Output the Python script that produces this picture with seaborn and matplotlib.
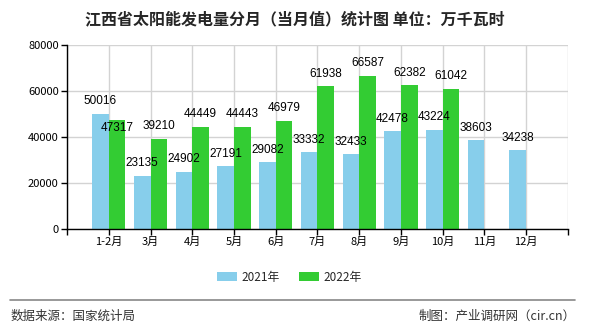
import numpy as np
import pandas as pd
import matplotlib
matplotlib.use("Agg")
import matplotlib.pyplot as plt
import seaborn as sns

months = ["1-2月", "3月", "4月", "5月", "6月", "7月", "8月", "9月", "10月", "11月", "12月"]
v2021 = [50016, 23135, 24902, 27191, 29082, 33332, 32433, 42478, 43224, 38603, 34238]
v2022 = [47317, 39210, 44449, 44443, 46979, 61938, 66587, 62382, 61042, np.nan, np.nan]
series = ["2021年", "2022年"]
colors = ["#87CEEB", "#33CC33"]
title = "江西省太阳能发电量分月（当月值）统计图 单位：万千瓦时"
source = "数据来源：国家统计局"
maker = "制图：产业调研网（cir.cn）"

sns.set_theme(style="white")
plt.rcParams['font.family'] = ['Noto Sans CJK SC', 'DejaVu Sans']

df = pd.DataFrame({
    "month": months * 2,
    "value": v2021 + v2022,
    "year": [series[0]] * len(months) + [series[1]] * len(months),
})

fig = plt.figure(figsize=(5.9, 3.3), dpi=100)
ax = fig.add_axes([0.1136, 0.306, 0.849, 0.558])
sns.barplot(data=df, x="month", y="value", hue="year", order=months,
            hue_order=series, palette=colors, width=0.8, saturation=1,
            ax=ax, legend=False, errorbar=None, linewidth=0, edgecolor="none")

ax.set_xlim(-1, 11)
ax.set_ylim(0, 80000)
ax.set_yticks([0, 20000, 40000, 60000, 80000])
ax.set_yticklabels(["0", "20000", "40000", "60000", "80000"], fontsize=8)
ax.set_xticks(range(-1, 12))
ax.set_xticklabels([""] + months + [""], fontsize=8)
ax.set_xlabel("")
ax.set_ylabel("")
ax.grid(True, color="#d3d3d3", linewidth=1)
ax.set_axisbelow(True)
for s in ["top", "right"]:
    ax.spines[s].set_visible(False)
for s in ["left", "bottom"]:
    ax.spines[s].set_color("black")
    ax.spines[s].set_linewidth(1)
ax.tick_params(axis="both", direction="out", length=4, width=1, color="black",
               bottom=True, left=True, pad=2, labelcolor="black")

# value labels
for ci, cont in enumerate(ax.containers):
    vals = v2021 if ci == 0 else v2022
    for i, (bar, v) in enumerate(zip(cont, vals)):
        if np.isnan(v):
            continue
        x = bar.get_x() + bar.get_width() / 2
        off = 9
        if ci == 1 and i == 0:
            off = -6
        ax.annotate(f"{int(v)}", (x, v), xytext=(0, off), textcoords="offset points",
                    ha="center", va="center", fontsize=8.5, color="black",
                    family=['Liberation Sans', 'DejaVu Sans'])

# legend
from matplotlib.patches import Patch
handles = [Patch(facecolor=c, edgecolor="none") for c in colors]
fig.legend(handles, series, loc="center", bbox_to_anchor=(0.49, 0.16), ncol=2,
           frameon=False, fontsize=8.5, handlelength=1.7, handleheight=0.7,
           columnspacing=1.6, handletextpad=0.4)

fig.text(0.5, 0.943, title, ha="center", va="center", fontsize=11.5, fontweight="bold")
fig.add_artist(plt.Line2D([0.017, 0.975], [0.09, 0.09], color="#888888", linewidth=1.2,
                          transform=fig.transFigure))
fig.text(0.017, 0.042, source, ha="left", va="center", fontsize=9, color="#333333")
fig.text(0.975, 0.042, maker, ha="right", va="center", fontsize=9, color="#333333")

fig.savefig("out.png", dpi=100, facecolor="white")
